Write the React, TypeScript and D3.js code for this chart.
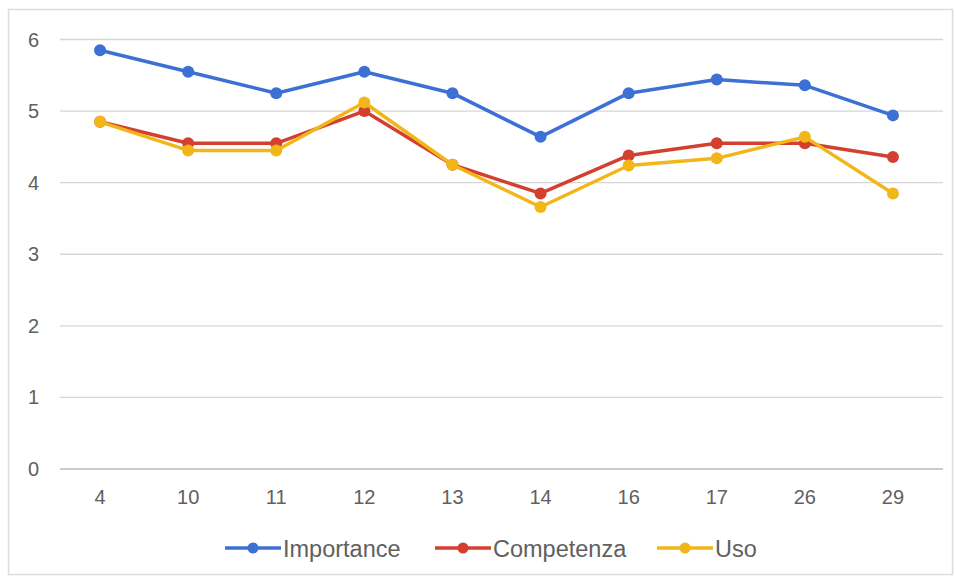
import React from "react";
import * as d3 from "d3";

const categories = ["4", "10", "11", "12", "13", "14", "16", "17", "26", "29"];
const importance = [5.85, 5.55, 5.25, 5.55, 5.25, 4.64, 5.25, 5.44, 5.36, 4.94];
const competenza = [4.85, 4.55, 4.55, 5.0, 4.25, 3.85, 4.38, 4.55, 4.55, 4.36];
const uso = [4.85, 4.45, 4.45, 5.12, 4.25, 3.66, 4.24, 4.34, 4.64, 3.85];
const yTicks = [0, 1, 2, 3, 4, 5, 6];
const seriesNames = ["Importance", "Competenza", "Uso"];
const seriesColors = ["#3d70d4", "#d3402f", "#f2b619"];

const W = 956;
const H = 578;
const M = { left: 60, right: 13, top: 39.5, bottom: 109 };

export default function App() {
  const x = d3
    .scaleBand<string>()
    .domain(categories)
    .range([56, 937])
    .padding(0);
  const y = d3.scaleLinear().domain([0, 6]).range([H - M.bottom, M.top]);
  const cx = (c: string) => (x(c) as number) + x.bandwidth() / 2;

  const series = [importance, competenza, uso];
  const line = d3
    .line<number>()
    .x((_, i) => cx(categories[i]))
    .y((v) => y(v));

  const legendStarts = [225, 435, 657];
  const font = "'Liberation Sans', Arial, sans-serif";

  return (
    <svg
      width={W}
      height={H}
      style={{ position: "absolute", left: 0, top: 0, background: "#fff" }}
    >
      <rect x={8.5} y={9.5} width={944} height={565} fill="#fff" stroke="#dcdcdc" strokeWidth={1.5} />
      {yTicks.map((t) => (
        <g key={t}>
          <line
            x1={M.left}
            x2={W - M.right}
            y1={y(t)}
            y2={y(t)}
            stroke={t === 0 ? "#b8b8b8" : "#d6d6d6"}
            strokeWidth={1.3}
          />
          <text
            x={39}
            y={y(t) + 7}
            textAnchor="end"
            fontSize={20}
            fill="#606060"
            fontFamily={font}
          >
            {t}
          </text>
        </g>
      ))}
      {categories.map((c) => (
        <text
          key={c}
          x={cx(c)}
          y={504}
          textAnchor="middle"
          fontSize={20}
          fill="#606060"
          fontFamily={font}
        >
          {c}
        </text>
      ))}
      {series.map((s, si) => (
        <g key={seriesNames[si]}>
          <path d={line(s) || ""} fill="none" stroke={seriesColors[si]} strokeWidth={3.5} strokeLinejoin="round" />
          {s.map((v, i) => (
            <circle key={i} cx={cx(categories[i])} cy={y(v)} r={6} fill={seriesColors[si]} />
          ))}
        </g>
      ))}
      {seriesNames.map((n, i) => (
        <g key={n} transform={`translate(${legendStarts[i]},548)`}>
          <line x1={0} x2={56} y1={0} y2={0} stroke={seriesColors[i]} strokeWidth={3.5} />
          <circle cx={28} cy={0} r={5.5} fill={seriesColors[i]} />
          <text x={58} y={8.5} fontSize={23.5} fill="#606060" fontFamily={font}>
            {n}
          </text>
        </g>
      ))}
    </svg>
  );
}
